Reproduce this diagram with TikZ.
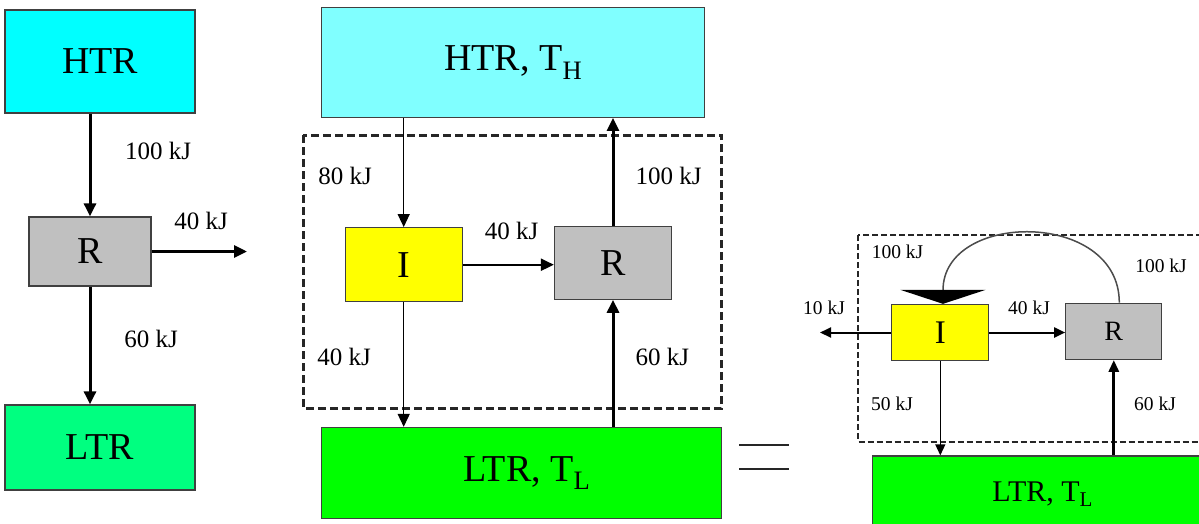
\documentclass[tikz,border=0pt]{standalone}
\usepackage{fontspec}
\setmainfont{Liberation Serif}
\usetikzlibrary{arrows.meta}
\definecolor{cyanA}{HTML}{00FFFF}
\definecolor{cyanB}{HTML}{80FFFF}
\definecolor{greenA}{HTML}{00FF80}
\definecolor{greenB}{HTML}{00FF00}
\definecolor{yellowI}{HTML}{FFFF00}
\definecolor{grayR}{HTML}{C0C0C0}
\begin{document}
\begin{tikzpicture}[x=1pt,y=-1pt,
  box/.style={draw=black!75, line width=1.3pt, inner sep=0pt, anchor=center},
  big/.style={font=\fontsize{38}{40}\selectfont},
  lab/.style={font=\fontsize{25}{27}\selectfont, inner sep=0pt},
  slab/.style={font=\fontsize{19.5}{21}\selectfont, inner sep=0pt},
  flowA/.style={line width=3pt, -{Triangle[length=13pt,width=12pt]}},
  flowM/.style={line width=2.3pt, -{Triangle[length=13pt,width=12pt]}},
  flowT/.style={line width=1.4pt, -{Triangle[length=13pt,width=12pt]}},
  flowAs/.style={line width=3pt, -{Triangle[length=12pt,width=10pt]}},
  flowS/.style={line width=2pt, -{Triangle[length=11pt,width=10pt]}},
  flowTs/.style={line width=1.3pt, -{Triangle[length=11pt,width=10pt]}},
  dashbox/.style={draw=black!85, line width=3pt, dash pattern=on 8pt off 4pt},
  dashboxs/.style={draw=black!85, line width=2pt, dash pattern=on 6pt off 3pt},
]
\clip (0,0) rectangle (1199,523);
\fill[white] (0,0) rectangle (1199,523);

% ---------- left panel ----------
\node[box, fill=cyanA, minimum width=190pt, minimum height=103pt, big] (htrA) at (100,61.5) {HTR};
\node[box, fill=grayR, minimum width=122pt, minimum height=69pt, big] (rA) at (90,251.5) {R};
\node[box, fill=greenA, minimum width=190pt, minimum height=85pt, big] (ltrA) at (100,447.5) {LTR};
\coordinate (outA) at (247,250);
\draw[flowA] (htrA.south -| rA.north) -- (rA.north);
\draw[flowA] (rA.east) -- (rA.east -| outA);
\draw[flowA] (rA.south) -- (ltrA.north -| rA.south);
\node[lab] (lA1) at (158,151) {100 kJ};
\node[lab] (lA2) at (201,221) {40 kJ};
\node[lab] (lA3) at (151,339) {60 kJ};

% ---------- middle panel ----------
\draw[dashbox] (303.3,135) rectangle (721.7,408.3);
\node[box, fill=cyanB, minimum width=383pt, minimum height=110pt, big] (htrB) at (513.3,62.3) {HTR, T\textsubscript{H}\hspace{20pt}};
\node[box, fill=yellowI, minimum width=117pt, minimum height=74pt, big] (iB) at (403.7,264.7) {I};
\node[box, fill=grayR, minimum width=117pt, minimum height=73pt, big] (rB) at (613,262.7) {R};
\node[box, fill=greenB, minimum width=400pt, minimum height=91pt, big] (ltrB) at (521.7,473) {\hspace{10pt}LTR, T\textsubscript{L}};
\draw[flowT] (htrB.south -| iB.north) -- (iB.north);
\draw[flowM] (iB.east) -- (iB.east -| rB.west);
\draw[flowA] (rB.north) -- (rB.north |- htrB.south);
\draw[flowT] (iB.south) -- (iB.south |- ltrB.north);
\draw[flowA] (ltrB.north -| rB.south) -- (rB.south);
\node[lab] (lB1) at (345,176) {80 kJ};
\node[lab] (lB2) at (668.7,176) {100 kJ};
\node[lab] (lB3) at (511.5,231) {40 kJ};
\node[lab] (lB4) at (344,357) {40 kJ};
\node[lab] (lB5) at (662.3,357) {60 kJ};

% ---------- equals sign ----------
\draw[line width=2pt, black!85] (739,445) -- (789,445) (739,469) -- (789,469);

% ---------- right panel ----------
\draw[dashboxs] (858.3,235) rectangle (1215,441.7);
\node[box, fill=yellowI, minimum width=97pt, minimum height=56pt, font=\fontsize{33}{35}\selectfont] (iC) at (940.3,332.5) {I};
\node[box, fill=grayR, minimum width=96pt, minimum height=56pt, font=\fontsize{28}{30}\selectfont] (rC) at (1113.8,331.3) {R};
\node[box, fill=greenB, minimum width=340pt, minimum height=76pt, font=\fontsize{30}{32}\selectfont] (ltrC) at (1042.7,494) {LTR, T\textsubscript{L}};
\coordinate (outC) at (820,332);
\draw[flowS] (iC.west) -- (iC.west -| outC);
\draw[flowS] (iC.east) -- (iC.east -| rC.west);
\draw[flowTs] (iC.south) -- (iC.south |- ltrC.north);
\draw[flowAs] (ltrC.north -| rC.south) -- (rC.south);
\draw[line width=1.5pt, black!70, -{Triangle[length=14pt,width=85pt,fill=black,color=black]}]
  ([xshift=5.5pt]rC.north) .. controls +(0,-93) and +(0,-93) .. ([xshift=2.7pt]iC.north);
\node[slab] (lC1) at (897.5,251.5) {100 kJ};
\node[slab] (lC2) at (1161,265.5) {100 kJ};
\node[slab] (lC3) at (824,307.5) {10 kJ};
\node[slab] (lC4) at (1029,307.5) {40 kJ};
\node[slab] (lC5) at (892,404) {50 kJ};
\node[slab] (lC6) at (1155,404) {60 kJ};
\end{tikzpicture}
\end{document}
